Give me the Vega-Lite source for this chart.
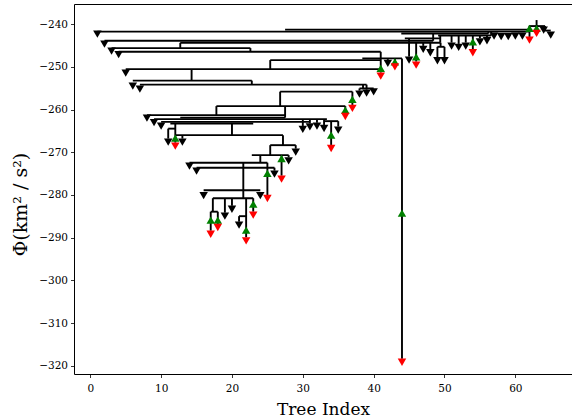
{
  "$schema": "https://vega.github.io/schema/vega-lite/v6.json",
  "width": 498,
  "height": 370,
  "autosize": {"type": "none"},
  "padding": {"left": 74, "top": 4, "right": 0, "bottom": 44},
  "background": "#ffffff",
  "config": {
    "view": {"stroke": "#000000", "strokeWidth": 1},
    "font": "DejaVu Serif",
    "axis": {
      "grid": false,
      "domain": false,
      "tickColor": "#000000",
      "tickSize": 3.5,
      "tickWidth": 0.8,
      "labelFont": "DejaVu Serif",
      "labelFontSize": 10.5,
      "labelColor": "#000000",
      "titleFont": "DejaVu Serif",
      "titleFontSize": 17,
      "titleFontWeight": "normal",
      "titleColor": "#000000"
    }
  },
  "datasets": {
    "segs": [
      {"x": 1, "y": -241.76, "x2": 62, "y2": -241.76},
      {"x": 27.5, "y": -241.29, "x2": 62, "y2": -241.29},
      {"x": 62, "y": -240.47, "x2": 62, "y2": -243.0},
      {"x": 61.9, "y": -240.47, "x2": 64.2, "y2": -240.47},
      {"x": 63, "y": -239.06, "x2": 63, "y2": -241.41},
      {"x": 64.2, "y": -240.47, "x2": 64.2, "y2": -241.52},
      {"x": 64.2, "y": -241.52, "x2": 65, "y2": -241.52},
      {"x": 2, "y": -243.91, "x2": 48.4, "y2": -243.91},
      {"x": 48.4, "y": -242.22, "x2": 48.4, "y2": -243.91},
      {"x": 43.9, "y": -242.22, "x2": 56.2, "y2": -242.22},
      {"x": 56.2, "y": -241.76, "x2": 56.2, "y2": -242.22},
      {"x": 49.1, "y": -242.69, "x2": 56.6, "y2": -242.69},
      {"x": 56.6, "y": -241.76, "x2": 56.6, "y2": -242.69},
      {"x": 12.7, "y": -244.38, "x2": 49.4, "y2": -244.38},
      {"x": 49.4, "y": -242.69, "x2": 49.4, "y2": -244.38},
      {"x": 44.4, "y": -243.35, "x2": 49.4, "y2": -243.35},
      {"x": 45, "y": -243.35, "x2": 45, "y2": -247.61},
      {"x": 46, "y": -244.38, "x2": 46, "y2": -248.78},
      {"x": 47, "y": -244.38, "x2": 47, "y2": -245.1},
      {"x": 48, "y": -244.38, "x2": 48, "y2": -245.9},
      {"x": 49, "y": -245.32, "x2": 50, "y2": -245.32},
      {"x": 49.45, "y": -244.38, "x2": 49.45, "y2": -245.32},
      {"x": 49, "y": -245.32, "x2": 49, "y2": -247.78},
      {"x": 50, "y": -245.32, "x2": 50, "y2": -247.78},
      {"x": 51, "y": -242.69, "x2": 51, "y2": -244.33},
      {"x": 52, "y": -242.69, "x2": 52, "y2": -244.64},
      {"x": 53, "y": -242.69, "x2": 53, "y2": -244.33},
      {"x": 54, "y": -242.69, "x2": 54, "y2": -245.9},
      {"x": 55, "y": -242.69, "x2": 55, "y2": -243.33},
      {"x": 56, "y": -242.69, "x2": 56, "y2": -243.09},
      {"x": 3, "y": -245.62, "x2": 22.6, "y2": -245.62},
      {"x": 22.6, "y": -245.62, "x2": 22.6, "y2": -246.49},
      {"x": 12.7, "y": -244.38, "x2": 12.7, "y2": -245.62},
      {"x": 4, "y": -246.49, "x2": 41, "y2": -246.49},
      {"x": 41, "y": -246.49, "x2": 41, "y2": -251.36},
      {"x": 38.4, "y": -248.03, "x2": 44, "y2": -248.03},
      {"x": 44, "y": -248.03, "x2": 44, "y2": -318.34},
      {"x": 42, "y": -248.03, "x2": 42, "y2": -248.38},
      {"x": 43, "y": -248.03, "x2": 43, "y2": -249.18},
      {"x": 25.4, "y": -248.43, "x2": 41, "y2": -248.43},
      {"x": 25.4, "y": -248.43, "x2": 25.4, "y2": -250.54},
      {"x": 5, "y": -250.54, "x2": 41, "y2": -250.54},
      {"x": 14.3, "y": -250.54, "x2": 14.3, "y2": -253.23},
      {"x": 6, "y": -253.23, "x2": 22.8, "y2": -253.23},
      {"x": 22.8, "y": -253.23, "x2": 22.8, "y2": -254.17},
      {"x": 7, "y": -254.17, "x2": 39, "y2": -254.17},
      {"x": 39, "y": -254.17, "x2": 39, "y2": -255.34},
      {"x": 38, "y": -255.06, "x2": 40, "y2": -255.06},
      {"x": 38.5, "y": -254.17, "x2": 38.5, "y2": -255.06},
      {"x": 38, "y": -255.06, "x2": 38, "y2": -255.57},
      {"x": 26.8, "y": -255.81, "x2": 37, "y2": -255.81},
      {"x": 26.8, "y": -255.81, "x2": 26.8, "y2": -259.2},
      {"x": 37, "y": -255.81, "x2": 37, "y2": -258.92},
      {"x": 17.8, "y": -259.2, "x2": 36, "y2": -259.2},
      {"x": 36, "y": -259.2, "x2": 36, "y2": -260.8},
      {"x": 17.8, "y": -259.2, "x2": 17.8, "y2": -261.31},
      {"x": 8, "y": -261.31, "x2": 27.5, "y2": -261.31},
      {"x": 27.5, "y": -259.2, "x2": 27.5, "y2": -261.9},
      {"x": 12.7, "y": -261.9, "x2": 27.5, "y2": -261.9},
      {"x": 9, "y": -262.25, "x2": 33.4, "y2": -262.25},
      {"x": 10, "y": -262.88, "x2": 31, "y2": -262.88},
      {"x": 11.3, "y": -263.26, "x2": 23, "y2": -263.26},
      {"x": 30, "y": -262.25, "x2": 30, "y2": -263.84},
      {"x": 31, "y": -262.25, "x2": 31, "y2": -263.23},
      {"x": 32, "y": -262.25, "x2": 32, "y2": -263.07},
      {"x": 33, "y": -262.25, "x2": 33, "y2": -263.61},
      {"x": 33, "y": -262.72, "x2": 35, "y2": -262.72},
      {"x": 34, "y": -262.72, "x2": 34, "y2": -268.29},
      {"x": 35, "y": -262.72, "x2": 35, "y2": -264.0},
      {"x": 11, "y": -264.47, "x2": 12, "y2": -264.47},
      {"x": 11, "y": -264.47, "x2": 11, "y2": -266.81},
      {"x": 12, "y": -263.26, "x2": 12, "y2": -267.75},
      {"x": 12, "y": -266.0, "x2": 27.2, "y2": -266.0},
      {"x": 13, "y": -266.0, "x2": 13, "y2": -266.81},
      {"x": 20, "y": -263.26, "x2": 20, "y2": -266.0},
      {"x": 27.2, "y": -266.0, "x2": 27.2, "y2": -268.34},
      {"x": 25.4, "y": -268.34, "x2": 29, "y2": -268.34},
      {"x": 29, "y": -268.34, "x2": 29, "y2": -269.16},
      {"x": 25.4, "y": -268.34, "x2": 25.4, "y2": -270.68},
      {"x": 22.8, "y": -270.68, "x2": 28, "y2": -270.68},
      {"x": 27, "y": -270.68, "x2": 27, "y2": -275.48},
      {"x": 28, "y": -270.68, "x2": 28, "y2": -271.19},
      {"x": 24, "y": -270.68, "x2": 24, "y2": -272.44},
      {"x": 14, "y": -272.44, "x2": 25, "y2": -272.44},
      {"x": 25, "y": -272.44, "x2": 25, "y2": -280.0},
      {"x": 15, "y": -273.61, "x2": 26, "y2": -273.61},
      {"x": 26, "y": -273.61, "x2": 26, "y2": -274.31},
      {"x": 21.6, "y": -272.44, "x2": 21.6, "y2": -280.75},
      {"x": 16, "y": -278.88, "x2": 24, "y2": -278.88},
      {"x": 17.3, "y": -280.75, "x2": 23, "y2": -280.75},
      {"x": 17.3, "y": -280.75, "x2": 17.3, "y2": -283.91},
      {"x": 17, "y": -283.91, "x2": 18, "y2": -283.91},
      {"x": 17, "y": -283.91, "x2": 17, "y2": -288.36},
      {"x": 18, "y": -283.91, "x2": 18, "y2": -286.79},
      {"x": 19, "y": -280.75, "x2": 19, "y2": -284.14},
      {"x": 20, "y": -280.75, "x2": 20, "y2": -282.51},
      {"x": 22, "y": -280.75, "x2": 22, "y2": -289.93},
      {"x": 21, "y": -284.96, "x2": 22, "y2": -284.96},
      {"x": 21, "y": -284.96, "x2": 21, "y2": -286.25},
      {"x": 23, "y": -280.75, "x2": 23, "y2": -283.91}
    ],
    "pts": [
      {"idx": 12, "phi": -266.7, "kind": "infall"},
      {"idx": 17, "phi": -285.9, "kind": "infall"},
      {"idx": 18, "phi": -285.9, "kind": "infall"},
      {"idx": 22, "phi": -288.24, "kind": "infall"},
      {"idx": 23, "phi": -282.15, "kind": "infall"},
      {"idx": 25, "phi": -274.96, "kind": "infall"},
      {"idx": 27, "phi": -271.45, "kind": "infall"},
      {"idx": 34, "phi": -266.0, "kind": "infall"},
      {"idx": 36, "phi": -260.14, "kind": "infall"},
      {"idx": 37, "phi": -257.63, "kind": "infall"},
      {"idx": 41, "phi": -250.37, "kind": "infall"},
      {"idx": 43, "phi": -248.83, "kind": "infall"},
      {"idx": 44, "phi": -284.26, "kind": "infall"},
      {"idx": 46, "phi": -247.66, "kind": "infall"},
      {"idx": 54, "phi": -244.15, "kind": "infall"},
      {"idx": 62, "phi": -241.01, "kind": "infall"},
      {"idx": 63, "phi": -241.01, "kind": "infall"},
      {"idx": 12, "phi": -268.57, "kind": "end"},
      {"idx": 17, "phi": -289.18, "kind": "end"},
      {"idx": 18, "phi": -287.61, "kind": "end"},
      {"idx": 22, "phi": -290.75, "kind": "end"},
      {"idx": 23, "phi": -284.73, "kind": "end"},
      {"idx": 25, "phi": -280.82, "kind": "end"},
      {"idx": 27, "phi": -276.3, "kind": "end"},
      {"idx": 34, "phi": -269.11, "kind": "end"},
      {"idx": 36, "phi": -261.62, "kind": "end"},
      {"idx": 37, "phi": -259.74, "kind": "end"},
      {"idx": 41, "phi": -252.18, "kind": "end"},
      {"idx": 43, "phi": -250.0, "kind": "end"},
      {"idx": 44, "phi": -319.16, "kind": "end"},
      {"idx": 46, "phi": -249.6, "kind": "end"},
      {"idx": 54, "phi": -246.72, "kind": "end"},
      {"idx": 62, "phi": -243.75, "kind": "end"},
      {"idx": 63, "phi": -242.18, "kind": "end"},
      {"idx": 1, "phi": -242.34, "kind": "leaf"},
      {"idx": 2, "phi": -244.68, "kind": "leaf"},
      {"idx": 3, "phi": -246.32, "kind": "leaf"},
      {"idx": 4, "phi": -247.14, "kind": "leaf"},
      {"idx": 5, "phi": -251.48, "kind": "leaf"},
      {"idx": 6, "phi": -254.52, "kind": "leaf"},
      {"idx": 7, "phi": -255.22, "kind": "leaf"},
      {"idx": 8, "phi": -262.01, "kind": "leaf"},
      {"idx": 9, "phi": -263.07, "kind": "leaf"},
      {"idx": 10, "phi": -263.89, "kind": "leaf"},
      {"idx": 11, "phi": -267.63, "kind": "leaf"},
      {"idx": 13, "phi": -267.63, "kind": "leaf"},
      {"idx": 14, "phi": -273.26, "kind": "leaf"},
      {"idx": 15, "phi": -274.43, "kind": "leaf"},
      {"idx": 16, "phi": -280.16, "kind": "leaf"},
      {"idx": 19, "phi": -284.96, "kind": "leaf"},
      {"idx": 20, "phi": -283.33, "kind": "leaf"},
      {"idx": 21, "phi": -287.07, "kind": "leaf"},
      {"idx": 24, "phi": -280.16, "kind": "leaf"},
      {"idx": 26, "phi": -275.13, "kind": "leaf"},
      {"idx": 28, "phi": -272.01, "kind": "leaf"},
      {"idx": 29, "phi": -269.98, "kind": "leaf"},
      {"idx": 30, "phi": -264.66, "kind": "leaf"},
      {"idx": 31, "phi": -264.05, "kind": "leaf"},
      {"idx": 32, "phi": -263.89, "kind": "leaf"},
      {"idx": 33, "phi": -264.43, "kind": "leaf"},
      {"idx": 35, "phi": -264.82, "kind": "leaf"},
      {"idx": 38, "phi": -256.39, "kind": "leaf"},
      {"idx": 39, "phi": -256.16, "kind": "leaf"},
      {"idx": 40, "phi": -255.85, "kind": "leaf"},
      {"idx": 42, "phi": -249.2, "kind": "leaf"},
      {"idx": 45, "phi": -248.43, "kind": "leaf"},
      {"idx": 47, "phi": -245.93, "kind": "leaf"},
      {"idx": 48, "phi": -246.72, "kind": "leaf"},
      {"idx": 49, "phi": -248.59, "kind": "leaf"},
      {"idx": 50, "phi": -248.59, "kind": "leaf"},
      {"idx": 51, "phi": -245.15, "kind": "leaf"},
      {"idx": 52, "phi": -245.46, "kind": "leaf"},
      {"idx": 53, "phi": -245.15, "kind": "leaf"},
      {"idx": 55, "phi": -244.15, "kind": "leaf"},
      {"idx": 56, "phi": -243.91, "kind": "leaf"},
      {"idx": 57, "phi": -242.81, "kind": "leaf"},
      {"idx": 58, "phi": -242.93, "kind": "leaf"},
      {"idx": 59, "phi": -242.93, "kind": "leaf"},
      {"idx": 60, "phi": -242.81, "kind": "leaf"},
      {"idx": 61, "phi": -242.81, "kind": "leaf"},
      {"idx": 64, "phi": -241.41, "kind": "leaf"},
      {"idx": 65, "phi": -242.58, "kind": "leaf"}
    ]
  },
  "layer": [
    {
      "data": {"name": "segs"},
      "mark": {"type": "rule", "stroke": "#000000", "strokeWidth": 1.9},
      "encoding": {
        "x": {
          "field": "x", "type": "quantitative",
          "scale": {"domain": [-2.3, 68], "nice": false, "zero": false},
          "axis": {"title": "Tree Index", "values": [0, 10, 20, 30, 40, 50, 60], "labelPadding": 6, "titlePadding": 7}
        },
        "x2": {"field": "x2"},
        "y": {
          "field": "y", "type": "quantitative",
          "scale": {"domain": [-321.9, -235.3], "nice": false, "zero": false},
          "axis": {"title": "Φ(km² / s²)", "titleFontSize": 19, "titleY": 200, "values": [-320, -310, -300, -290, -280, -270, -260, -250, -240], "labelPadding": 3, "titlePadding": 8}
        },
        "y2": {"field": "y2"}
      }
    },
    {
      "data": {"name": "pts"},
      "mark": {"type": "point", "filled": true, "opacity": 1, "size": 72, "strokeWidth": 0},
      "encoding": {
        "x": {"field": "idx", "type": "quantitative"},
        "y": {"field": "phi", "type": "quantitative"},
        "shape": {"field": "kind", "type": "nominal", "scale": {"domain": ["leaf", "end", "infall"], "range": ["triangle-down", "triangle-down", "triangle-up"]}, "legend": null},
        "color": {"field": "kind", "type": "nominal", "scale": {"domain": ["leaf", "end", "infall"], "range": ["#000000", "#ff0000", "#008000"]}, "legend": null}
      }
    }
  ]
}
